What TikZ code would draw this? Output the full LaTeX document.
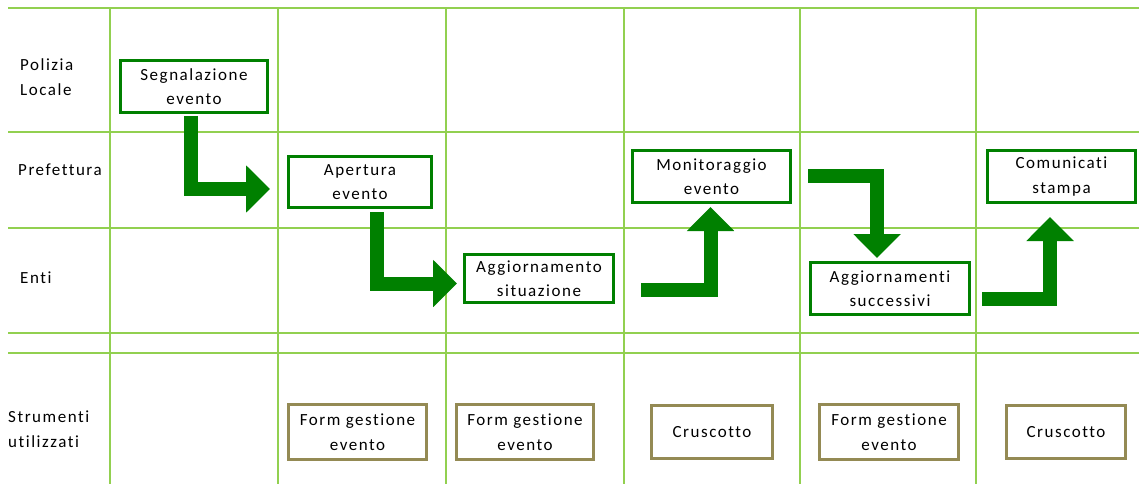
\documentclass[tikz,border=0pt]{standalone}
\usepackage{fontspec}
\setmainfont[LetterSpace=9, Ligatures=NoCommon]{Carlito}
\usepackage{xcolor}
\usepackage{tikz}
\usetikzlibrary{arrows.meta,calc}

\definecolor{gridgreen}{RGB}{146,208,80}
\definecolor{boxgreen}{RGB}{0,128,0}
\definecolor{toololive}{RGB}{148,138,84}

\tikzset{
    lane/.style={draw=gridgreen, line width=2pt},
    stepbox/.style={draw=boxgreen, line width=3pt, fill=white, align=center, inner sep=0pt},
    toolbox/.style={draw=toololive, line width=3pt, fill=white, align=center, inner sep=0pt},
    rowlabel/.style={anchor=west, align=left, inner sep=0pt},
    flowarrow/.style={draw=boxgreen, line width=14pt, line join=miter, -{Triangle[width=46pt,length=24pt]}}
}

\begin{document}
\begin{tikzpicture}[x=1pt, y=-1pt, font=\fontsize{17}{24.5}\selectfont]
        \useasboundingbox (0,0) rectangle (1139,484);

        % lanes
        \draw[lane] (8,8) -- (1139,8);
        \draw[lane] (8,132) -- (1139,132);
        \draw[lane] (8,228) -- (1139,228);
        \draw[lane] (8,333) -- (1139,333);
        \draw[lane] (8,353) -- (1139,353);
        \draw[lane] (110,8) -- (110,484);
        \draw[lane] (278,8) -- (278,484);
        \draw[lane] (446,8) -- (446,484);
        \draw[lane] (624,8) -- (624,484);
        \draw[lane] (800,8) -- (800,484);
        \draw[lane] (976,8) -- (976,484);

        \node[rowlabel] (polizia) at (20,77) {Polizia\\Locale};
        \node[rowlabel] (prefettura) at (18,170) {Prefettura};
        \node[rowlabel] (enti) at (20,278) {Enti};
        \node[rowlabel] (strumenti) at (8,429) {Strumenti\\utilizzati};

        % steps
        \node[stepbox, minimum width=147pt, minimum height=52pt] (seg) at (194,86.5) {Segnalazione\\evento};
        \node[stepbox, minimum width=143pt, minimum height=51pt] (ape) at (360,182) {Apertura\\evento};
        \node[stepbox, minimum width=149pt, minimum height=48pt] (agg) at (539,278.5) {Aggiornamento\\situazione};
        \node[stepbox, minimum width=158pt, minimum height=52pt] (mon) at (711.5,176.5) {Monitoraggio\\evento};
        \node[stepbox, minimum width=159pt, minimum height=52pt] (suc) at (890,288.5) {Aggiornamenti\\successivi};
        \node[stepbox, minimum width=148pt, minimum height=52pt] (com) at (1061.5,176.5) {Comunicati\\stampa};

        % tools
        \node[toolbox, minimum width=138pt, minimum height=55pt] (form1) at (357.5,432) {Form gestione\\evento};
        \node[toolbox, minimum width=137pt, minimum height=55pt] (form2) at (525,432) {Form gestione\\evento};
        \node[toolbox, minimum width=121pt, minimum height=53pt] (crus1) at (712,432) {Cruscotto};
        \node[toolbox, minimum width=139pt, minimum height=55pt] (form3) at (889,432) {Form gestione\\evento};
        \node[toolbox, minimum width=119pt, minimum height=53pt] (crus2) at (1066,432) {Cruscotto};

        % flow
        \draw[flowarrow] ($(seg.south)+(-3,2)$) |- ($(ape.west)+(-17,7)$);
        \draw[flowarrow] ($(ape.south)+(17,3)$) |- ($(agg.west)+(-6,5)$);
        \draw[flowarrow] ($(agg.east)+(26,11)$) -| ($(mon.south)+(-1,3)$);
        \draw[flowarrow] ($(mon.east)+(16,-1)$) -| ($(suc.north)+(-13,-3)$);
        \draw[flowarrow] ($(suc.east)+(11,10.5)$) -| ($(com.south)+(-11.5,13)$);
    \end{tikzpicture}
\end{document}
